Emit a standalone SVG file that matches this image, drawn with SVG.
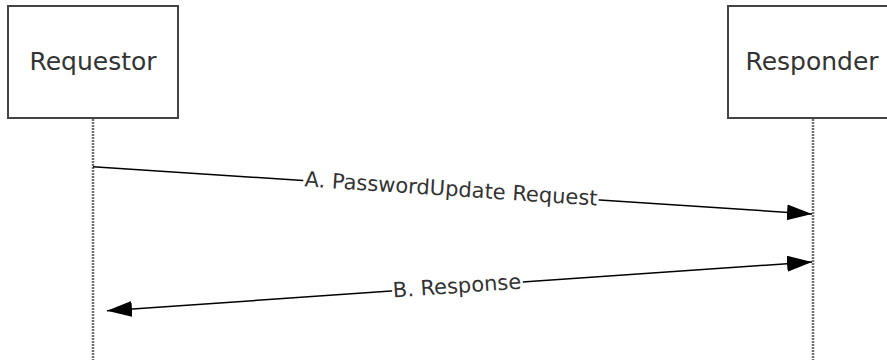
<svg xmlns="http://www.w3.org/2000/svg" width="887" height="360" viewBox="0 0 887 360">
  <style>
    .box { fill: #ffffff; stroke: #444444; stroke-width: 2; }
    .lbl { font-family: "DejaVu Sans", Verdana, sans-serif; font-size: 25px; fill: #333333; text-anchor: middle; }
    .life { stroke: #707070; stroke-width: 2.5; stroke-dasharray: 2 1; fill: none; }
    .msg { stroke: #000000; stroke-width: 1.5; fill: none; }
    .mtxt { font-family: "DejaVu Sans", Verdana, sans-serif; font-size: 21px; fill: #333333; text-anchor: middle; }
    .bg { fill: #ffffff; }
  </style>
  <defs>
    <marker id="arr" markerUnits="userSpaceOnUse" markerWidth="26" markerHeight="18" refX="25" refY="8" orient="auto-start-reverse">
      <path d="M0,0 L25,8 L0,16 z" fill="#000000"/>
    </marker>
  </defs>
  <rect width="887" height="360" fill="#ffffff"/>

  <g id="requestor">
    <line class="life" x1="93" y1="119" x2="93" y2="360"/>
    <rect class="box" x="8" y="6" width="170" height="112"/>
    <text class="lbl" x="93" y="70">Requestor</text>
  </g>

  <g id="responder">
    <line class="life" x1="813" y1="119" x2="813" y2="360"/>
    <rect class="box" x="728" y="6" width="170" height="112"/>
    <text class="lbl" x="812" y="70">Responder</text>
  </g>

  <g id="connectors">
    <g id="msgA">
      <line class="msg" x1="93" y1="166.7" x2="812" y2="214" marker-end="url(#arr)"/>
      <g transform="rotate(3.76 451 190)">
        <rect class="bg" x="303" y="178" width="296" height="24"/>
        <text class="mtxt" x="451" y="196">A. PasswordUpdate Request</text>
      </g>
    </g>
    <g id="msgB">
      <line class="msg" x1="107" y1="310.7" x2="812" y2="262" marker-start="url(#arr)" marker-end="url(#arr)"/>
      <g transform="rotate(-3.95 457 287)">
        <rect class="bg" x="392" y="275" width="131" height="24"/>
        <text class="mtxt" x="457" y="293">B. Response</text>
      </g>
    </g>
  </g>
</svg>
